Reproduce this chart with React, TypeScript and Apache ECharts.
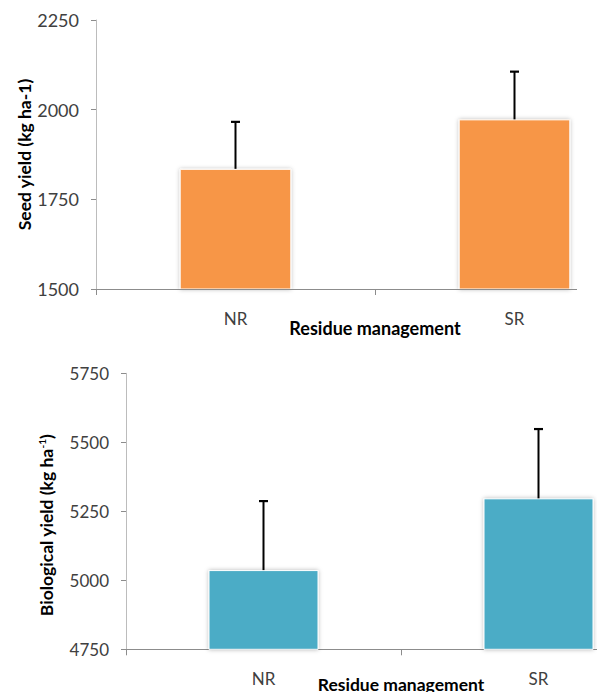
import React, { useEffect, useRef } from "react";
import * as echarts from "echarts";

const categories = ["NR", "SR"];
const seedYield = [1835, 1973];
const seedYieldError = [131, 133];
const bioYield = [5037, 5297];
const bioYieldError = [250, 251];
const seedAxis = { min: 1500, max: 2250, interval: 250 };
const bioAxis = { min: 4750, max: 5750, interval: 250 };

const FONT = "Lato, 'Open Sans', sans-serif";

function errorSeries(idx: number, values: number[], errors: number[]) {
  return {
    type: "custom",
    xAxisIndex: idx,
    yAxisIndex: idx,
    data: values.map((v, i) => [i, v, v + errors[i]]),
    encode: { x: 0, y: [1, 2] },
    z: 10,
    renderItem: (params: any, api: any) => {
      const x = api.value(0);
      const base = api.coord([x, api.value(1)]);
      const top = api.coord([x, api.value(2)]);
      return {
        type: "group",
        children: [
          {
            type: "line",
            shape: { x1: base[0], y1: base[1], x2: top[0], y2: top[1] },
            style: { stroke: "#000", lineWidth: 2 },
          },
          {
            type: "line",
            shape: { x1: top[0] - 4.5, y1: top[1], x2: top[0] + 4.5, y2: top[1] },
            style: { stroke: "#000", lineWidth: 2.2 },
          },
        ],
      };
    },
  };
}

function barSeries(idx: number, values: number[], color: string) {
  return {
    type: "bar",
    xAxisIndex: idx,
    yAxisIndex: idx,
    data: values,
    barWidth: "40%",
    itemStyle: {
      color,
      borderColor: "#ffffff",
      borderWidth: 1,
      shadowBlur: 4,
      shadowColor: "rgba(0,0,0,0.28)",
    },
  };
}

export default function App() {
  const ref = useRef<HTMLDivElement>(null);
  useEffect(() => {
    if (!ref.current) return;
    const chart = echarts.init(ref.current, undefined, { renderer: "svg" });
    const xAxisCommon = {
      type: "category",
      data: categories,
      boundaryGap: true,
      axisTick: { show: true, length: 6, lineStyle: { color: "#8c8c8c" } },
      axisLabel: { color: "#404040", fontSize: 17, fontFamily: FONT, margin: 21 },
      nameLocation: "middle",
      nameMoveOverlap: false,
      nameTextStyle: { color: "#000", fontWeight: "bold", fontSize: 18, fontFamily: FONT },
      splitLine: { show: false },
    };
    const yAxisCommon = {
      type: "value",
      axisLine: { show: true, lineStyle: { color: "#bcbcbc", width: 1 } },
      axisTick: { show: true, length: 5, lineStyle: { color: "#8c8c8c" } },
      axisLabel: {
        color: "#404040",
        fontSize: 18,
        fontFamily: FONT,
        margin: 17,
        formatter: (v: number) => String(v),
      },
      splitLine: { show: false },
      nameLocation: "middle",
      nameMoveOverlap: false,
      nameTextStyle: { color: "#000", fontWeight: "bold", fontSize: 17.5, fontFamily: FONT },
    };
    chart.setOption({
      animation: false,
      backgroundColor: "#ffffff",
      grid: [
        { left: 96, top: 20, width: 558, height: 269, outerBoundsMode: "none", containLabel: false },
        { left: 126, top: 373.3, width: 550, height: 276, outerBoundsMode: "none", containLabel: false },
      ],
      xAxis: [
        {
          ...xAxisCommon,
          gridIndex: 0,
          name: "Residue management",
          nameGap: 30,
          axisLine: { show: false },
        },
        {
          ...xAxisCommon,
          gridIndex: 1,
          name: "Residue management",
          nameGap: 26,
          nameTextStyle: { ...xAxisCommon.nameTextStyle, fontSize: 17.5 },
          axisLine: { show: true, lineStyle: { color: "#8c8c8c" } },
        },
      ],
      yAxis: [
        {
          ...yAxisCommon,
          gridIndex: 0,
          ...seedAxis,
          name: "Seed yield (kg ha-1)",
          nameGap: 63,
        },
        {
          ...yAxisCommon,
          gridIndex: 1,
          ...bioAxis,
          axisLabel: { ...yAxisCommon.axisLabel, fontSize: 17 },
          name: "Biological yield (kg ha{sup|-1})",
          nameGap: 71,
          nameTextStyle: {
            ...yAxisCommon.nameTextStyle,
            padding: [0, 28, 0, 0],
            rich: {
              sup: { fontSize: 10, fontWeight: "bold", color: "#000", fontFamily: FONT, verticalAlign: "top", padding: [0, 0, 7, 0] },
            },
          },
        },
      ],
      graphic: [
        {
          type: "line",
          shape: { x1: 96, y1: 289.5, x2: 577, y2: 289.5 },
          style: { stroke: "#8c8c8c", lineWidth: 1 },
          z: 5,
        },
      ],
      series: [
        barSeries(0, seedYield, "#F79646"),
        errorSeries(0, seedYield, seedYieldError),
        barSeries(1, bioYield, "#4BACC6"),
        errorSeries(1, bioYield, bioYieldError),
      ],
    });
    return () => chart.dispose();
  }, []);
  return (
    <div
      style={{ position: "fixed", left: 0, top: 0, width: 597, height: 692, overflow: "hidden", background: "#fff" }}
    >
      <div ref={ref} style={{ width: 700, height: 692 }} />
    </div>
  );
}
